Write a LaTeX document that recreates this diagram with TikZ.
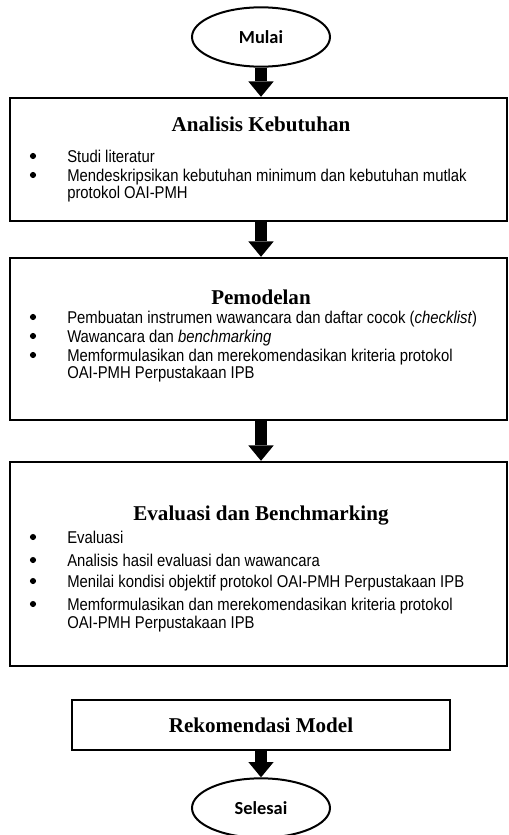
\documentclass[tikz,border=0pt]{standalone}
\usepackage{fontspec}
\setmainfont{Liberation Serif}
\newfontfamily\arialn[FakeStretch=0.87]{Liberation Sans}
\newfontfamily\calib{Carlito}
\usetikzlibrary{arrows.meta,shapes.geometric}
\begin{document}
\begin{tikzpicture}[x=0.75pt,y=-0.75pt,
  box/.style={draw, line width=1.8pt, rectangle, inner sep=0pt},
  term/.style={draw, ellipse, line width=1.5pt, minimum width=103.5pt, minimum height=44.5pt, inner sep=0pt, font=\calib\bfseries\fontsize{13.8}{15}\selectfont},
  ttl/.style={anchor=base, inner sep=0pt, font=\bfseries\fontsize{15.8}{18}\selectfont},
  itm/.style={anchor=base west, inner sep=0pt, font=\arialn\fontsize{12.8}{14}\selectfont},
  bul/.style={circle, fill, inner sep=0pt, minimum size=4.6pt},
  arr/.style={line width=9pt, -{Triangle[width=19pt,length=11.5pt,line width=0pt]}}]
\useasboundingbox (0,0) rectangle (509,835);
% terminals
\node[term] (mulai) at (261,37) {Mulai};
\node[term] (selesai) at (261,808) {Selesai};
% boxes
\node[box, minimum width=372.75pt, minimum height=92.25pt] (box1) at (258.5,159.5) {};
\node[box, minimum width=372.75pt, minimum height=121.5pt] (box2) at (258.5,339) {};
\node[box, minimum width=372.75pt, minimum height=153pt] (box3) at (258.5,564) {};
\node[box, minimum width=283.5pt, minimum height=37.5pt, font=\bfseries\fontsize{15.8}{18}\selectfont] (box4) at (261,725) {Rekomendasi Model};
% box 1 content
\node[ttl] (t1) at (261,131) {Analisis Kebutuhan};
\node[bul] (d11) at (33,156) {};
\node[itm] (i11) at (67,162) {Studi literatur};
\node[bul] (d12) at (33,175) {};
\node[itm] (i12) at (67,181) {Mendeskripsikan kebutuhan minimum dan kebutuhan mutlak};
\node[itm] (i12b) at (67,198) {protokol OAI-PMH};
% box 2 content
\node[ttl] (t2) at (261,304) {Pemodelan};
\node[bul] (d21) at (33,317) {};
\node[itm] (i21) at (67,323) {Pembuatan instrumen wawancara dan daftar cocok (\textit{checklist})};
\node[bul] (d22) at (33,336) {};
\node[itm] (i22) at (67,342) {Wawancara dan \textit{benchmarking}};
\node[bul] (d23) at (33,355) {};
\node[itm] (i23) at (67,361) {Memformulasikan dan merekomendasikan kriteria protokol};
\node[itm] (i23b) at (67,378) {OAI-PMH Perpustakaan IPB};
% box 3 content
\node[ttl] (t3) at (261,520) {Evaluasi dan Benchmarking};
\node[bul] (d31) at (33,537) {};
\node[itm] (i31) at (67,543) {Evaluasi};
\node[bul] (d32) at (33,560) {};
\node[itm] (i32) at (67,566) {Analisis hasil evaluasi dan wawancara};
\node[bul] (d33) at (33,581) {};
\node[itm] (i33) at (67,587) {Menilai kondisi objektif protokol OAI-PMH Perpustakaan IPB};
\node[bul] (d34) at (33,604) {};
\node[itm] (i34) at (67,610) {Memformulasikan dan merekomendasikan kriteria protokol};
\node[itm] (i34b) at (67,628) {OAI-PMH Perpustakaan IPB};
% arrows
\draw[arr] (mulai.south) -- (mulai.south |- box1.north);
\draw[arr] (mulai |- box1.south) -- (mulai |- box2.north);
\draw[arr] (mulai |- box2.south) -- (mulai |- box3.north);
\draw[arr] (box4.south -| mulai) -- (selesai.north);
\end{tikzpicture}
\end{document}
